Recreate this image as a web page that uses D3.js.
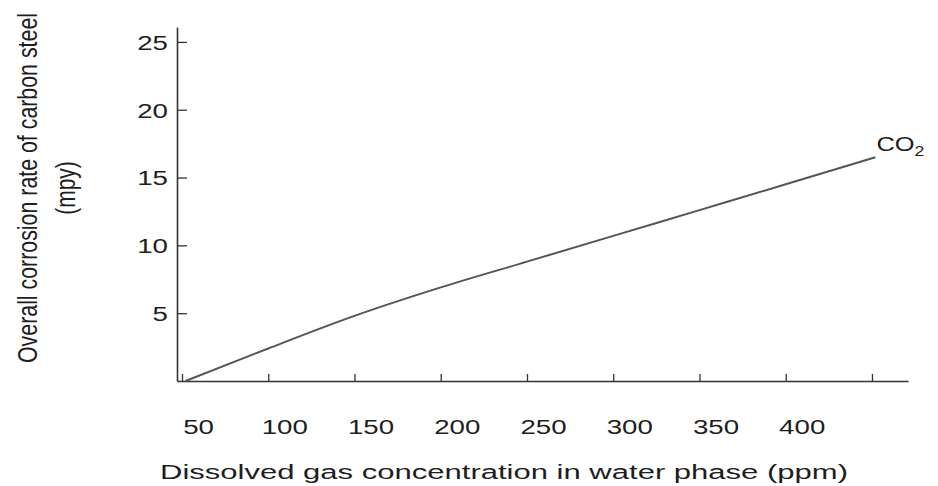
<!DOCTYPE html>
<html>
<head>
<meta charset="utf-8">
<script src="https://cdn.jsdelivr.net/npm/d3@7"></script>
<style>
  html, body { margin: 0; padding: 0; background: #fff; }
  svg { display: block; }
  text { font-family: "Liberation Sans", Arial, Helvetica, sans-serif; fill: #1e1e1e; }
</style>
</head>
<body>
<svg id="chart" width="938" height="486"></svg>
<script>
// CO2 corrosion curve: dissolved gas (ppm) vs corrosion rate (mpy)
const concentration = [52, 100, 150, 200, 250, 300, 350, 400, 452];
const corrosionRate = [0, 2.4, 4.8, 6.9, 8.8, 10.7, 12.6, 14.5, 16.5];

const xTickValues = [50, 100, 150, 200, 250, 300, 350, 400, 450];
const xTickLabels = ["50", "100", "150", "200", "250", "300", "350", "400", ""];
const yTickValues = [5, 10, 15, 20, 25];
const yTickLabels = ["5", "10", "15", "20", "25"];

const seriesName = "CO";
const seriesSub = "2";
const xTitle = "Dissolved gas concentration in water phase (ppm)";
const yTitle = ["Overall corrosion rate of carbon steel", "(mpy)"];

const svg = d3.select("#chart");
const stretch = 1.35; // wide glyphs

const x = d3.scaleLinear().domain([47.1, 470.9]).range([177, 908]);
const y = d3.scaleLinear().domain([0, 26.1]).range([381, 27]);

// x axis: inward ticks, labels set off to the right of each tick
const xAxis = svg.append("g")
  .attr("transform", `translate(0,${y(0)})`)
  .call(d3.axisBottom(x)
    .tickValues(xTickValues)
    .tickSize(-7)
    .tickSizeOuter(0)
    .tickFormat((d, i) => xTickLabels[i]));
xAxis.select(".domain").attr("stroke", "#333").attr("stroke-width", 1.6);
xAxis.selectAll(".tick line").attr("stroke", "#333").attr("stroke-width", 1.3);
xAxis.selectAll(".tick text")
  .attr("y", 0).attr("dy", null)
  .attr("font-size", 20.5)
  .attr("text-anchor", "middle")
  .attr("transform", `translate(16,53) scale(${stretch},1)`);

// y axis: inward ticks, no tick at zero
const yAxis = svg.append("g")
  .attr("transform", `translate(${x.range()[0]},0)`)
  .call(d3.axisLeft(y)
    .tickValues(yTickValues)
    .tickSize(-10)
    .tickSizeOuter(0)
    .tickFormat((d, i) => yTickLabels[i]));
yAxis.select(".domain").attr("stroke", "#333").attr("stroke-width", 1.6);
yAxis.selectAll(".tick line").attr("stroke", "#333").attr("stroke-width", 1.3);
yAxis.selectAll(".tick text")
  .attr("x", 0).attr("dy", "0.36em")
  .attr("font-size", 20.5)
  .attr("text-anchor", "end")
  .attr("transform", `translate(-9,0) scale(${stretch},1)`);

// series curve
const points = concentration.map((c, i) => [c, corrosionRate[i]]);
svg.append("path")
  .datum(points)
  .attr("fill", "none")
  .attr("stroke", "#555")
  .attr("stroke-width", 2)
  .attr("d", d3.line().x(d => x(d[0])).y(d => y(d[1])).curve(d3.curveMonotoneX));

// series label at the end of the curve
const last = points[points.length - 1];
const lbl = svg.append("text")
  .attr("font-size", 20)
  .attr("transform", `translate(${x(last[0]) + 1},${y(last[1]) - 6}) scale(1.27,1)`);
lbl.append("tspan").text(seriesName);
lbl.append("tspan").attr("font-size", 14).attr("dy", 5).text(seriesSub);

// x axis title
svg.append("text")
  .attr("x", 160).attr("y", 479)
  .attr("font-size", 19.5)
  .attr("textLength", 688)
  .attr("lengthAdjust", "spacingAndGlyphs")
  .text(xTitle);

// y axis title, two rotated lines
const yt = svg.append("g")
  .attr("transform", `translate(37,188) scale(${stretch},1) rotate(-90)`);
yt.append("text")
  .attr("text-anchor", "middle")
  .attr("font-size", 21)
  .attr("textLength", 350)
  .attr("lengthAdjust", "spacingAndGlyphs")
  .text(yTitle[0]);
yt.append("text")
  .attr("text-anchor", "middle")
  .attr("y", 28)
  .attr("font-size", 21)
  .text(yTitle[1]);
</script>
</body>
</html>
